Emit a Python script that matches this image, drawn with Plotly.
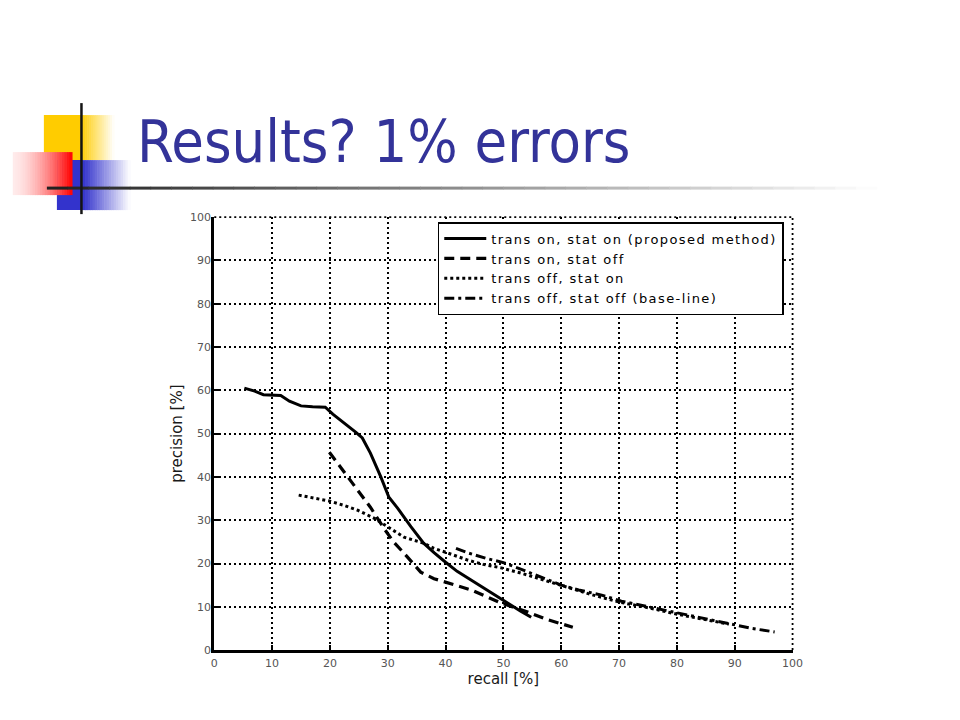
import plotly.graph_objects as go

FW, FH = 944, 704
# measured mapping between figure pixels and the captured picture
SX, CX = 0.984, 11.2
SY, CY = 0.9815, 13.9

# ---------------- data ----------------
series_names = [
    "trans on, stat on (proposed method)",
    "trans on, stat off",
    "trans off, stat on",
    "trans off, stat off (base-line)",
]

recall_on_on = [5.2, 7, 8.5, 10, 11.5, 13, 15, 17, 19.2, 20.5, 22, 23.5, 24.5, 25.6,
                27, 28.8, 30.2, 31.7, 34, 36.2, 38, 40, 42, 44.4, 47, 49.2, 51, 53, 54.8]
precision_on_on = [60.5, 59.8, 59, 58.9, 58.8, 57.5, 56.4, 56.2, 56.1, 54.5, 53, 51.5, 50.3, 49,
                   45.5, 40, 35.3, 32.8, 28.5, 24.7, 22.5, 20.3, 18.2, 16.2, 14, 12.1, 10.6, 9, 7.6]

recall_on_off = [19.9, 21.8, 24, 27, 29.3, 31, 32.8, 35.7, 38, 40.4, 42.5, 44.4, 47, 49.4,
                 51.5, 54.2, 57.7, 60, 62]
precision_on_off = [45.7, 42.3, 38.5, 33, 28.2, 25, 22.4, 18, 16.5, 15.5, 14.6, 13.9, 12.4, 11,
                    10, 8.8, 7, 6, 5.3]

recall_off_on = [14.6, 17, 20, 22.5, 24.8, 27.6, 30, 32.8, 36.2, 38, 40, 43.8, 46.5, 49.6,
                 53, 57, 61, 65, 70, 75, 80, 85, 89]
precision_off_on = [35.8, 35.2, 34.4, 33.4, 32.3, 30.5, 28.5, 26.1, 24.7, 23.5, 22.6, 20.8, 19.8, 19,
                    17.8, 16.2, 14.6, 12.9, 11.1, 9.8, 8.3, 7.0, 6.0]

recall_off_off = [41.8, 44, 47, 50, 53, 56, 60, 63, 67, 70.4, 74, 77, 80.8, 84, 87, 90, 93, 96.9]
precision_off_off = [23.5, 22.4, 21.2, 20.2, 18.7, 17.1, 15, 13.9, 12.7, 11.3, 10.3, 9.5, 8.3,
                     7.4, 6.6, 5.8, 5.0, 4.2]

x_ticks = list(range(0, 101, 10))
y_ticks = list(range(0, 101, 10))

title_text = "Results? 1% errors"
x_title = "recall [%]"
y_title = "precision [%]"

# ---------------- figure ----------------
fig = go.Figure()

line_styles = [
    dict(dash="solid", width=3),
    dict(dash="10px,6px", width=3.2),
    dict(dash="3px,3px", width=3),
    dict(dash="10px,4px,3px,4px", width=3),
]
all_x = [recall_on_on, recall_on_off, recall_off_on, recall_off_off]
all_y = [precision_on_on, precision_on_off, precision_off_on, precision_off_off]

for name, xs, ys, st in zip(series_names, all_x, all_y, line_styles):
    fig.add_trace(go.Scatter(
        x=xs, y=ys, mode="lines",
        name='<span style="letter-spacing:1.4px">%s</span>' % name,
        line=dict(color="black", width=st["width"], dash=st["dash"]),
        hoverinfo="skip",
    ))


def px(x):
    return ((x - CX) / SX) / FW


def py(y):
    return 1 - ((y - CY) / SY) / FH


shapes = []


def rect(x0, y0, x1, y1, color):
    shapes.append(dict(type="rect", xref="paper", yref="paper",
                       x0=px(x0), x1=px(x1), y0=py(y1), y1=py(y0),
                       line=dict(width=0), fillcolor=color, layer="above"))


def mix(c0, c1, t):
    return "rgb(%d,%d,%d)" % tuple(round(a + (b - a) * t) for a, b in zip(c0, c1))


def hgrad(x0, x1, y0, y1, c0, c1, n, gamma=1.0):
    step = (x1 - x0) / n
    for i in range(n):
        t = ((i + 0.5) / n) ** gamma
        rect(x0 + step * i, y0, x0 + step * (i + 1) + 0.6, y1, mix(c0, c1, t))


WHITE = (255, 255, 255)
YELLOW = (255, 204, 0)
BLUE = (51, 51, 204)
RED = (255, 0, 0)

# logo squares
rect(44, 115, 81, 160, "rgb(255,204,0)")
hgrad(81, 114, 115, 160, YELLOW, WHITE, 16)
rect(57, 160, 83, 210, "rgb(51,51,204)")
hgrad(83, 130, 160, 210, BLUE, WHITE, 20)
hgrad(13, 72, 152, 195, (255, 235, 235), RED, 24, gamma=1.6)

# decorative horizontal rule with fade
n_seg = 40
x_start, x_end = 47, 875
seg = (x_end - x_start) / n_seg
for i in range(n_seg):
    t = (i + 0.5) / n_seg
    shapes.append(dict(type="line", xref="paper", yref="paper",
                       x0=px(x_start + seg * i), x1=px(x_start + seg * (i + 1) + 0.5),
                       y0=py(188), y1=py(188),
                       line=dict(color=mix((30, 30, 30), WHITE, t), width=3), layer="above"))
# vertical rule
shapes.append(dict(type="line", xref="paper", yref="paper",
                   x0=px(81.5), x1=px(81.5), y0=py(103), y1=py(214),
                   line=dict(color="rgb(20,20,20)", width=2.5), layer="above"))

# dotted frame on top and right (MATLAB grid style)
shapes.append(dict(type="line", xref="x domain", yref="y domain", x0=0, x1=1, y0=1, y1=1,
                   line=dict(color="black", width=1.8, dash="2px,3px"), layer="below"))
shapes.append(dict(type="line", xref="x domain", yref="y domain", x0=1, x1=1, y0=0, y1=1,
                   line=dict(color="black", width=1.8, dash="2px,3px"), layer="below"))

SANS = "DejaVu Sans, Verdana, sans-serif"
tick_font = dict(family=SANS, size=11, color="#555555")
title_font = dict(family=SANS, size=15, color="#1a1a1a")

fig.update_layout(
    width=FW, height=FH, autosize=False,
    margin=dict(l=0, r=0, t=0, b=0),
    paper_bgcolor="white", plot_bgcolor="white",
    shapes=shapes,
    showlegend=True,
    legend=dict(
        x=px(437), y=py(222), xanchor="left", yanchor="top",
        bgcolor="white", bordercolor="black", borderwidth=1.5,
        font=dict(family=SANS, size=13, color="black"),
        tracegroupgap=0, itemwidth=42,
    ),
    annotations=[dict(
        text=title_text, xref="paper", yref="paper",
        x=px(135), y=py(141.5), xanchor="left", yanchor="middle",
        showarrow=False,
        font=dict(family="DejaVu Sans Condensed, DejaVu Sans, sans-serif", size=59,
                  color="rgb(51,51,153)"),
    )],
    xaxis=dict(
        domain=[px(214), px(791)], range=[0, 100],
        tickvals=x_ticks, ticktext=[str(v) for v in x_ticks],
        showgrid=True, gridcolor="black", gridwidth=1.8, griddash="2px,3px",
        showline=True, linecolor="black", linewidth=3,
        ticks="inside", ticklen=5, tickwidth=2, tickcolor="black",
        tickfont=tick_font, zeroline=False, ticklabelstandoff=1,
        title=dict(text=x_title, font=title_font, standoff=3),
    ),
    yaxis=dict(
        domain=[py(650), py(217)], range=[0, 100],
        tickvals=y_ticks, ticktext=[str(v) for v in y_ticks],
        showgrid=True, gridcolor="black", gridwidth=1.8, griddash="2px,3px",
        showline=True, linecolor="black", linewidth=3,
        ticks="inside", ticklen=5, tickwidth=2, tickcolor="black",
        tickfont=tick_font, zeroline=False, ticklabelstandoff=-2,
        title=dict(text=y_title, font=title_font, standoff=4),
    ),
)

fig.write_html("out.html")
